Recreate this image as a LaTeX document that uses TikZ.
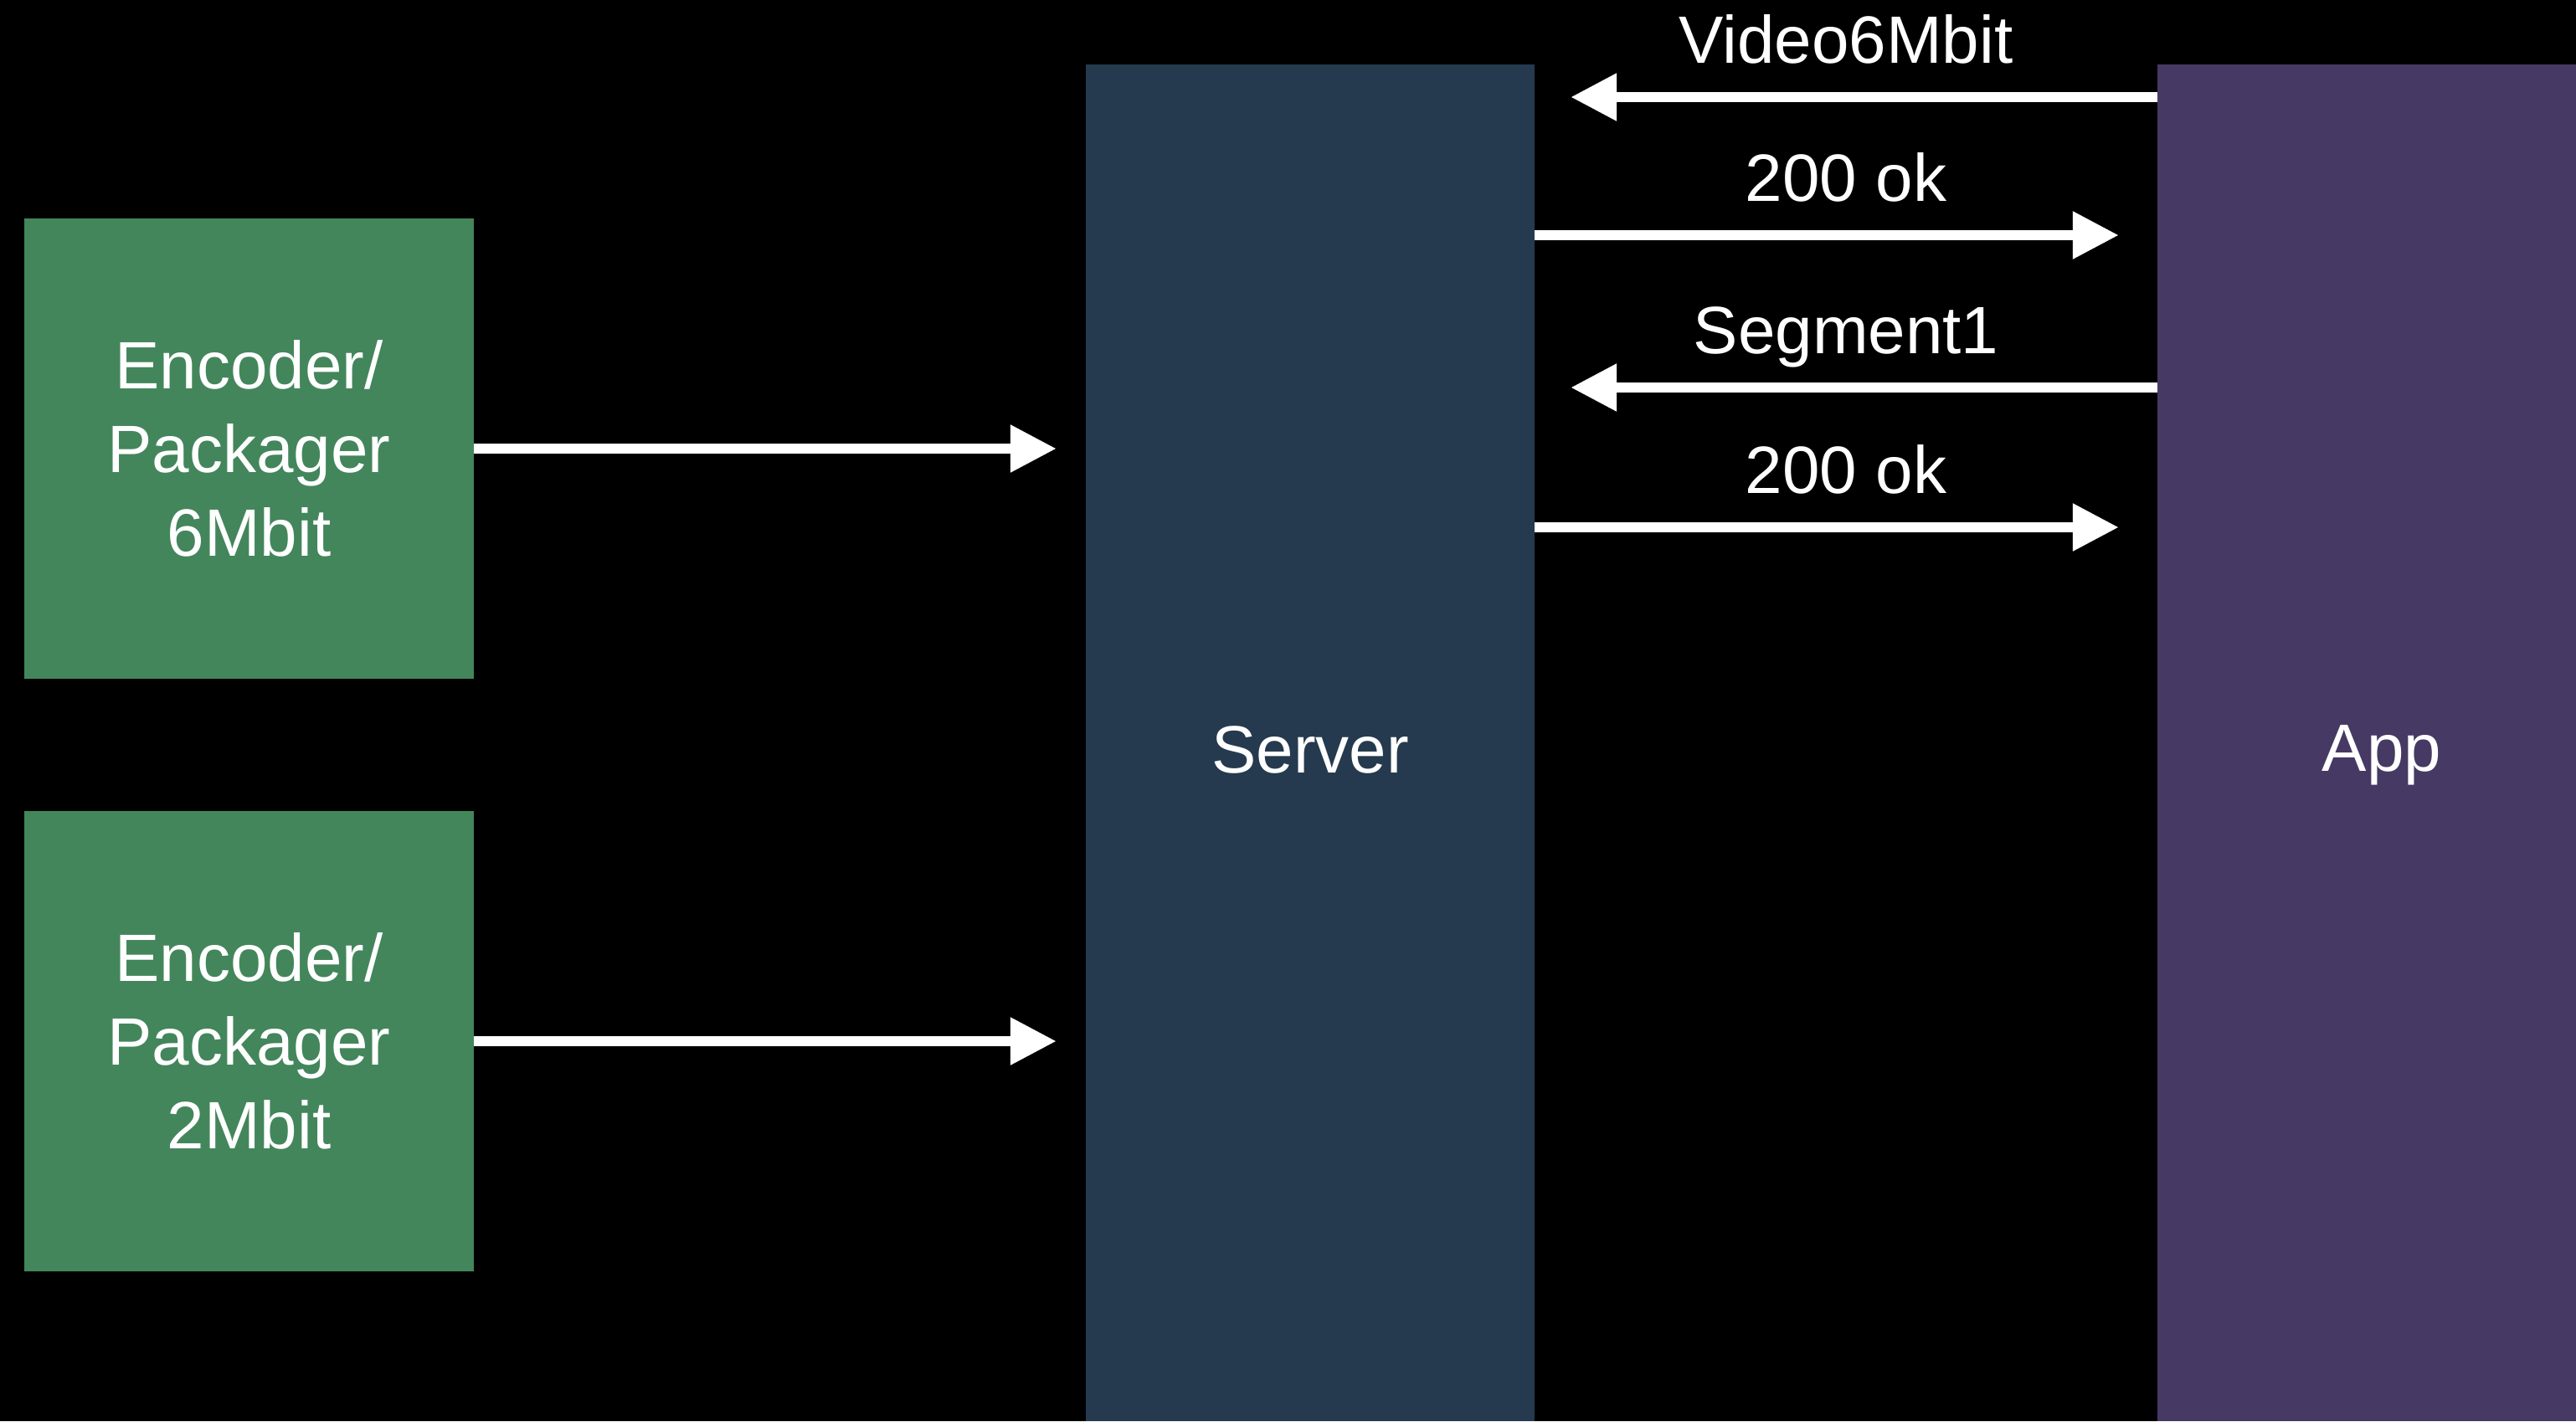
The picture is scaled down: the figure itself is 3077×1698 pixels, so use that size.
\documentclass[tikz,border=0pt]{standalone}
\usepackage{fontspec}
\setmainfont{Liberation Sans}
\usetikzlibrary{arrows.meta}
\definecolor{encgreen}{RGB}{67,134,91}
\definecolor{srvblue}{RGB}{37,58,79}
\definecolor{apppurple}{RGB}{70,57,99}
\tikzset{
  bigfont/.style={font=\fontsize{80}{100}\selectfont, text=white},
  encbox/.style={fill=encgreen, draw=none, minimum width=537pt, minimum height=550pt, inner sep=0pt, align=center, bigfont},
  colbox/.style={draw=none, minimum width=536pt, minimum height=1621pt, inner sep=0pt},
  flow/.style={draw=white, line width=12pt, -{Triangle[length=55pt, width=54pt]}},
  msg/.style={bigfont, anchor=base, yshift=41pt, inner sep=0pt}
}
\begin{document}
\begin{tikzpicture}[x=1pt, y=-1pt]
\fill[black] (0,0) rectangle (3077,1698);
\useasboundingbox (0,0) rectangle (3077,1698);

\node[encbox] (enc1) at (297.5,536) {Encoder/\\Packager\\6Mbit};
\node[encbox] (enc2) at (297.5,1244) {Encoder/\\Packager\\2Mbit};

\node[colbox, fill=srvblue, label={[bigfont, yshift=-8pt]center:Server}] (server) at (1565,887.5) {};
\node[colbox, fill=apppurple, label={[bigfont, yshift=-15pt]center:App}] (app) at (2845,887.5) {};

\draw[flow, shorten >=35pt] (enc1.east) -- (enc1.east -| server.west);
\draw[flow, shorten >=35pt] (enc2.east) -- (enc2.east -| server.west);

\coordinate (r1) at (0,116);
\coordinate (r2) at (0,281);
\coordinate (r3) at (0,463);
\coordinate (r4) at (0,630);

\draw[flow, shorten >=43pt] (app.west |- r1) -- node[msg] (m1) {Video6Mbit} (server.east |- r1);
\draw[flow, shorten >=46pt] (server.east |- r2) -- node[msg] (m2) {200 ok} (app.west |- r2);
\draw[flow, shorten >=43pt] (app.west |- r3) -- node[msg] (m3) {Segment1} (server.east |- r3);
\draw[flow, shorten >=46pt] (server.east |- r4) -- node[msg] (m4) {200 ok} (app.west |- r4);
\end{tikzpicture}
\end{document}
